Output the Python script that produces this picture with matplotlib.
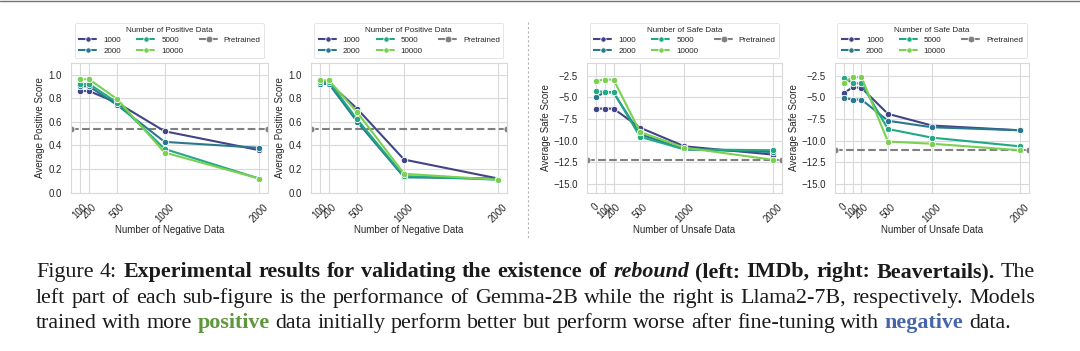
import matplotlib
matplotlib.use('Agg')
import matplotlib.pyplot as plt
import seaborn as sns
from matplotlib.lines import Line2D
from matplotlib.transforms import IdentityTransform

###############################################################################
# Data
neg_x = [100, 200, 500, 1000, 2000]
unsafe_x = [0, 100, 200, 500, 1000, 2000]
series_labels = ['1000', '2000', '5000', '10000']

# IMDb, Gemma-2B (rows: 1000, 2000, 5000, 10000 positive samples)
imdb_gemma = [[0.86, 0.86, 0.76, 0.52, 0.36],
              [0.90, 0.90, 0.74, 0.43, 0.38],
              [0.92, 0.92, 0.76, 0.37, 0.12],
              [0.96, 0.96, 0.79, 0.34, 0.12]]
imdb_gemma_pre = 0.54

# IMDb, Llama2-7B
imdb_llama = [[0.92, 0.93, 0.71, 0.28, 0.12],
              [0.92, 0.92, 0.60, 0.13, 0.12],
              [0.94, 0.94, 0.62, 0.14, 0.11],
              [0.95, 0.95, 0.68, 0.16, 0.11]]
imdb_llama_pre = 0.54

# Beavertails, Gemma-2B
beaver_gemma = [[-6.3, -6.3, -6.3, -8.5, -10.65, -11.6],
                [-5.0, -4.4, -4.45, -9.25, -11.0, -11.3],
                [-4.25, -4.4, -4.4, -9.55, -11.0, -11.1],
                [-3.1, -2.95, -2.95, -9.0, -10.8, -12.2]]
beaver_gemma_pre = -12.27

# Beavertails, Llama2-7B
beaver_llama = [[-4.5, -3.85, -3.9, -6.9, -8.25, -8.8],
                [-5.05, -5.25, -5.25, -7.7, -8.45, -8.8],
                [-2.75, -3.35, -3.4, -8.65, -9.65, -10.65],
                [-3.3, -2.65, -2.65, -10.1, -10.35, -11.1]]
beaver_llama_pre = -11.05

imdb_yticks = [0.0, 0.2, 0.4, 0.6, 0.8, 1.0]
safe_yticks = [-15.0, -12.5, -10.0, -7.5, -5.0, -2.5]

###############################################################################
sns.set_theme(style='whitegrid')
plt.rcParams['font.family'] = ['Liberation Sans', 'DejaVu Sans']

colors = sns.color_palette('viridis', 4)
W, H = 1080, 351
fig = plt.figure(figsize=(W / 100, H / 100), dpi=100)


def px_axes(left, right, top, bottom):
    return fig.add_axes([left / W, 1 - bottom / H, (right - left) / W,
                         (bottom - top) / H])


def make_panel(ax, xs, rows, pre, yticks, ylim, ylabel, xlabel, title):
    for vals, c in zip(rows, colors):
        ax.plot(xs, vals, color=c, lw=1.5, marker='o', ms=4.6,
                mec='white', mew=0.6, zorder=3)
    ax.axhline(pre, color='gray', ls='--', lw=1.5, marker='o', ms=5,
               mec='white', mew=0.6, zorder=2)
    ax.set_xticks(xs)
    ax.set_xticklabels([str(x) for x in xs], rotation=45)
    ax.set_yticks(yticks)
    ax.set_ylim(*ylim)
    ax.tick_params(labelsize=7, pad=0.5, colors='.15')
    ax.set_xlabel(xlabel, fontsize=7, labelpad=1, color='.15')
    ax.set_ylabel(ylabel, fontsize=7, labelpad=2, color='.15')
    ax.grid(True, color='.85', lw=0.8)
    for s in ax.spines.values():
        s.set_color('.85')
        s.set_linewidth(0.8)

    handles = [Line2D([], [], color=c, ls='--', lw=1.5, marker='o', ms=3.8,
                      mec='white', mew=0.5) for c in colors]
    handles.append(Line2D([], [], color='gray', ls='--', lw=1.5, marker='o',
                          ms=4.8, mec='white', mew=0.5))
    leg = ax.legend(handles, series_labels + ['Pretrained'], title=title,
                    ncol=3, loc='lower center', bbox_to_anchor=(0.5, 1.035),
                    fontsize=5.8, title_fontsize=5.8, frameon=True,
                    handlelength=2.5, columnspacing=1.9, handletextpad=0.6,
                    labelspacing=0.35, borderpad=0.45, borderaxespad=0)
    leg.get_frame().set_edgecolor('.85')
    leg.get_frame().set_linewidth(0.6)


ax1 = px_axes(70.7, 268, 62.7, 192.7)
ax2 = px_axes(310.7, 507, 62.7, 192.7)
ax3 = px_axes(587, 781.7, 62.7, 192.7)
ax4 = px_axes(835, 1029, 62.7, 192.7)

make_panel(ax1, neg_x, imdb_gemma, imdb_gemma_pre, imdb_yticks, (0, 1.1),
           'Average Positive Score', 'Number of Negative Data',
           'Number of Positive Data')
make_panel(ax2, neg_x, imdb_llama, imdb_llama_pre, imdb_yticks, (0, 1.1),
           'Average Positive Score', 'Number of Negative Data',
           'Number of Positive Data')
make_panel(ax3, unsafe_x, beaver_gemma, beaver_gemma_pre, safe_yticks,
           (-16, -1), 'Average Safe Score', 'Number of Unsafe Data',
           'Number of Safe Data')
make_panel(ax4, unsafe_x, beaver_llama, beaver_llama_pre, safe_yticks,
           (-16, -1), 'Average Safe Score', 'Number of Unsafe Data',
           'Number of Safe Data')

# Separator between the two datasets and page rule at the top
fig.add_artist(Line2D([528 / W, 528 / W], [1 - 22 / H, 1 - 238 / H],
                      transform=fig.transFigure, color='.7', lw=0.8,
                      ls=(0, (2, 2))))
fig.add_artist(Line2D([0, 1], [1 - 0.5 / H, 1 - 0.5 / H],
                      transform=fig.transFigure, color='.45', lw=1))

###############################################################################
# Caption, set word by word so that mixed styles and justification work
cap_font = dict(family='Liberation Serif', size=15.8)
reg = dict()
bold = dict(weight='bold')
bital = dict(weight='bold', style='italic')
green = dict(weight='bold', color='#5f963c')
blue = dict(weight='bold', color='#4665aa')

caption = [
    ([('Figure 4:', reg),
      ('Experimental results for validating the existence of', bold),
      ('rebound', bital), ('(left: IMDb, right: Beavertails).', bold),
      ('The', reg)], True),
    ([('left part of each sub-figure is the performance of Gemma-2B while '
       'the right is Llama2-7B, respectively. Models', reg)], True),
    ([('trained with more', reg), ('positive', green),
      ('data initially perform better but perform worse after fine-tuning '
       'with', reg), ('negative', blue), ('data.', reg)], False),
]
baselines = [277, 303, 328]
x_left, x_right = 36, 1035

renderer = fig.canvas.get_renderer()
space = fig.text(0, 0, 'a a', transform=IdentityTransform(), **cap_font)
nospace = fig.text(0, 0, 'aa', transform=IdentityTransform(), **cap_font)
space_w = (space.get_window_extent(renderer).width
           - nospace.get_window_extent(renderer).width)
space.remove()
nospace.remove()

for (segments, justify), base in zip(caption, baselines):
    words = []
    for txt, style in segments:
        for w in txt.split(' '):
            words.append((w, style))
    arts = []
    for w, style in words:
        t = fig.text(0, H - base, w, transform=IdentityTransform(),
                     va='baseline', ha='left', color=style.get('color', 'k'),
                     weight=style.get('weight', 'normal'),
                     style=style.get('style', 'normal'), **cap_font)
        arts.append(t)
    widths = [a.get_window_extent(renderer).width for a in arts]
    gap = space_w
    if justify and len(arts) > 1:
        gap = (x_right - x_left - sum(widths)) / (len(arts) - 1)
    x = x_left
    for a, w in zip(arts, widths):
        a.set_x(x)
        x += w + gap

fig.savefig('out.png', dpi=100)
